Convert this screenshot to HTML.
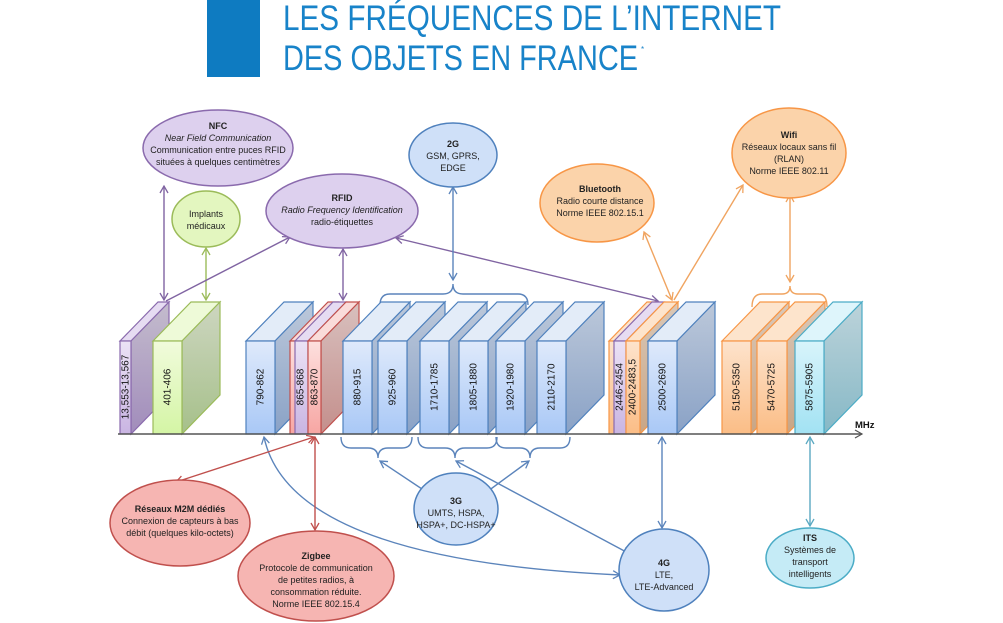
<!DOCTYPE html>
<html><head><meta charset="utf-8"><style>
html,body{margin:0;padding:0;background:#fff;}
svg{display:block;font-family:"Liberation Sans",sans-serif;}
.t{font-size:9px;fill:#222;text-anchor:middle;}
.b{font-weight:bold;}
.i{font-style:italic;}
.lb{font-size:10px;fill:#111;text-anchor:middle;dominant-baseline:middle;}
</style></head><body>
<svg width="1003" height="623" viewBox="0 0 1003 623" xmlns="http://www.w3.org/2000/svg">
<defs>
<linearGradient id="gB" x1="0" y1="0" x2="0" y2="1"><stop offset="0" stop-color="#dfeafb"/><stop offset="1" stop-color="#a9c8f6"/></linearGradient>
<linearGradient id="gBs" x1="0" y1="0" x2="0" y2="1"><stop offset="0" stop-color="#bcc8da"/><stop offset="1" stop-color="#8aa2c6"/></linearGradient>
<linearGradient id="gP" x1="0" y1="0" x2="0" y2="1"><stop offset="0" stop-color="#ebe2f5"/><stop offset="1" stop-color="#c9b5e2"/></linearGradient>
<linearGradient id="gPs" x1="0" y1="0" x2="0" y2="1"><stop offset="0" stop-color="#c4bccd"/><stop offset="1" stop-color="#a18cbb"/></linearGradient>
<linearGradient id="gG" x1="0" y1="0" x2="0" y2="1"><stop offset="0" stop-color="#f1fbdc"/><stop offset="1" stop-color="#d4f5a5"/></linearGradient>
<linearGradient id="gGs" x1="0" y1="0" x2="0" y2="1"><stop offset="0" stop-color="#cdd6c0"/><stop offset="1" stop-color="#a6c08a"/></linearGradient>
<linearGradient id="gR" x1="0" y1="0" x2="0" y2="1"><stop offset="0" stop-color="#fde0de"/><stop offset="1" stop-color="#f7a6a3"/></linearGradient>
<linearGradient id="gRs" x1="0" y1="0" x2="0" y2="1"><stop offset="0" stop-color="#d8c0be"/><stop offset="1" stop-color="#c48f8c"/></linearGradient>
<linearGradient id="gO" x1="0" y1="0" x2="0" y2="1"><stop offset="0" stop-color="#fde3cc"/><stop offset="1" stop-color="#fbbd86"/></linearGradient>
<linearGradient id="gOs" x1="0" y1="0" x2="0" y2="1"><stop offset="0" stop-color="#dac8b8"/><stop offset="1" stop-color="#c8a585"/></linearGradient>
<linearGradient id="gC" x1="0" y1="0" x2="0" y2="1"><stop offset="0" stop-color="#d8f4fb"/><stop offset="1" stop-color="#a2e2f3"/></linearGradient>
<linearGradient id="gCs" x1="0" y1="0" x2="0" y2="1"><stop offset="0" stop-color="#bcd3da"/><stop offset="1" stop-color="#86b8c6"/></linearGradient>
<marker id="aP" markerWidth="10" markerHeight="10" refX="8" refY="5" orient="auto-start-reverse" markerUnits="userSpaceOnUse"><path d="M1,1 L8,5 L1,9" fill="none" stroke="#8064a2" stroke-width="1.3"/></marker>
<marker id="aG" markerWidth="10" markerHeight="10" refX="8" refY="5" orient="auto-start-reverse" markerUnits="userSpaceOnUse"><path d="M1,1 L8,5 L1,9" fill="none" stroke="#9bbb59" stroke-width="1.3"/></marker>
<marker id="aB" markerWidth="10" markerHeight="10" refX="8" refY="5" orient="auto-start-reverse" markerUnits="userSpaceOnUse"><path d="M1,1 L8,5 L1,9" fill="none" stroke="#5b84bb" stroke-width="1.3"/></marker>
<marker id="aO" markerWidth="10" markerHeight="10" refX="8" refY="5" orient="auto-start-reverse" markerUnits="userSpaceOnUse"><path d="M1,1 L8,5 L1,9" fill="none" stroke="#f0a460" stroke-width="1.3"/></marker>
<marker id="aR" markerWidth="10" markerHeight="10" refX="8" refY="5" orient="auto-start-reverse" markerUnits="userSpaceOnUse"><path d="M1,1 L8,5 L1,9" fill="none" stroke="#c0504d" stroke-width="1.3"/></marker>
<marker id="aC" markerWidth="10" markerHeight="10" refX="8" refY="5" orient="auto-start-reverse" markerUnits="userSpaceOnUse"><path d="M1,1 L8,5 L1,9" fill="none" stroke="#5aa9c2" stroke-width="1.3"/></marker>
</defs>

<rect x="207" y="0" width="53" height="77" fill="#0e7bc1"/>
<text x="283" y="30" font-size="35" fill="#1883c9" textLength="498" lengthAdjust="spacingAndGlyphs">LES FRÉQUENCES DE L’INTERNET</text>
<text x="283" y="70" font-size="35" fill="#1883c9" textLength="355" lengthAdjust="spacingAndGlyphs">DES OBJETS EN FRANCE</text>
<text x="641" y="52" font-size="8" fill="#1883c9">*</text>

<g fill="none" stroke-width="1.4">
<line x1="164" y1="186" x2="164" y2="300" stroke="#8064a2" marker-start="url(#aP)" marker-end="url(#aP)"/>
<line x1="206" y1="248" x2="206" y2="300" stroke="#9bbb59" marker-start="url(#aG)" marker-end="url(#aG)"/>
<line x1="343" y1="249" x2="343" y2="300" stroke="#8064a2" marker-start="url(#aP)" marker-end="url(#aP)"/>
<line x1="290" y1="237" x2="166" y2="301" stroke="#8064a2" marker-start="url(#aP)"/>
<line x1="396" y1="238" x2="658" y2="301" stroke="#8064a2" marker-start="url(#aP)" marker-end="url(#aP)"/>
<line x1="453" y1="187" x2="453" y2="280" stroke="#5b84bb" marker-start="url(#aB)" marker-end="url(#aB)"/>
<path d="M380,305 Q380,294 390,294 L443,294 Q453,294 453,284 Q453,294 463,294 L518,294 Q528,294 528,305" stroke="#5b84bb"/>
<line x1="644" y1="232" x2="672" y2="300" stroke="#f0a460" marker-start="url(#aO)" marker-end="url(#aO)"/>
<line x1="743" y1="185" x2="674" y2="300" stroke="#f0a460" marker-start="url(#aO)"/>
<line x1="790" y1="195" x2="790" y2="282" stroke="#f0a460" marker-start="url(#aO)" marker-end="url(#aO)"/>
<path d="M752,307 Q752,294 762,294 L782,294 Q790,294 790,286 Q790,294 798,294 L818,294 Q827,294 827,307" stroke="#f0a460"/>
</g>

<g stroke-width="1.5">
<ellipse cx="218" cy="148" rx="75" ry="38" fill="#ddd0ee" stroke="#8a6aad"/>
<ellipse cx="206" cy="219" rx="34" ry="28" fill="#e3f6bf" stroke="#9bbb59"/>
<ellipse cx="342" cy="211" rx="76" ry="37" fill="#ddd0ee" stroke="#8a6aad"/>
<ellipse cx="453" cy="155" rx="44" ry="32" fill="#cfe0f8" stroke="#4f81bd"/>
<ellipse cx="597" cy="203" rx="57" ry="39" fill="#fbd3aa" stroke="#f79646"/>
<ellipse cx="789" cy="153" rx="57" ry="45" fill="#fbd3aa" stroke="#f79646"/>
</g>
<text class="t b" x="218" y="129">NFC</text>
<text class="t i" x="218" y="141">Near Field Communication</text>
<text class="t" x="218" y="153">Communication entre puces RFID</text>
<text class="t" x="218" y="165">situées à quelques centimètres</text>
<text class="t" x="206" y="217">Implants</text>
<text class="t" x="206" y="229">médicaux</text>
<text class="t b" x="342" y="201">RFID</text>
<text class="t i" x="342" y="213">Radio Frequency Identification</text>
<text class="t" x="342" y="225">radio-étiquettes</text>
<text class="t b" x="453" y="147">2G</text>
<text class="t" x="453" y="159">GSM, GPRS,</text>
<text class="t" x="453" y="171">EDGE</text>
<text class="t b" x="600" y="192">Bluetooth</text>
<text class="t" x="600" y="204">Radio courte distance</text>
<text class="t" x="600" y="216">Norme IEEE 802.15.1</text>
<text class="t b" x="789" y="138">Wifi</text>
<text class="t" x="789" y="150">Réseaux locaux sans fil</text>
<text class="t" x="789" y="162">(RLAN)</text>
<text class="t" x="789" y="174">Norme IEEE 802.11</text>

<g stroke-width="1.2">
<g stroke="#8a6aad"><polygon points="120,341 158,302 169,302 131,341" fill="#e6dcf2"/><polygon points="131,341 169,302 169,395 131,434" fill="url(#gPs)"/><rect x="120" y="341" width="11" height="93" fill="url(#gP)"/></g>
<g stroke="#9bbb59"><polygon points="153,341 191,302 220,302 182,341" fill="#eefad8"/><polygon points="182,341 220,302 220,395 182,434" fill="url(#gGs)"/><rect x="153" y="341" width="29" height="93" fill="url(#gG)"/></g>
<g stroke="#4f81bd"><polygon points="246,341 284,302 313,302 275,341" fill="#e3ecf8"/><polygon points="275,341 313,302 313,395 275,434" fill="url(#gBs)"/><rect x="246" y="341" width="29" height="93" fill="url(#gB)"/></g>
<g stroke="#c0504d"><polygon points="290,341 328,302 338,302 300,341" fill="#fadcda"/><rect x="290" y="341" width="10" height="93" fill="url(#gR)"/></g>
<g stroke="#8a6aad"><polygon points="295,341 333,302 346,302 308,341" fill="#e6dcf2"/><rect x="295" y="341" width="13" height="93" fill="url(#gP)"/></g>
<g stroke="#c0504d"><polygon points="308,341 346,302 359,302 321,341" fill="#fadcda"/><polygon points="321,341 359,302 359,395 321,434" fill="url(#gRs)"/><rect x="308" y="341" width="13" height="93" fill="url(#gR)"/></g>
<g stroke="#4f81bd">
<polygon points="343,341 381,302 410,302 372,341" fill="#e3ecf8"/><polygon points="372,341 410,302 410,395 372,434" fill="url(#gBs)"/><rect x="343" y="341" width="29" height="93" fill="url(#gB)"/>
<polygon points="378,341 416,302 445,302 407,341" fill="#e3ecf8"/><polygon points="407,341 445,302 445,395 407,434" fill="url(#gBs)"/><rect x="378" y="341" width="29" height="93" fill="url(#gB)"/>
<polygon points="420,341 458,302 487,302 449,341" fill="#e3ecf8"/><polygon points="449,341 487,302 487,395 449,434" fill="url(#gBs)"/><rect x="420" y="341" width="29" height="93" fill="url(#gB)"/>
<polygon points="459,341 497,302 526,302 488,341" fill="#e3ecf8"/><polygon points="488,341 526,302 526,395 488,434" fill="url(#gBs)"/><rect x="459" y="341" width="29" height="93" fill="url(#gB)"/>
<polygon points="496,341 534,302 563,302 525,341" fill="#e3ecf8"/><polygon points="525,341 563,302 563,395 525,434" fill="url(#gBs)"/><rect x="496" y="341" width="29" height="93" fill="url(#gB)"/>
<polygon points="537,341 575,302 604,302 566,341" fill="#e3ecf8"/><polygon points="566,341 604,302 604,395 566,434" fill="url(#gBs)"/><rect x="537" y="341" width="29" height="93" fill="url(#gB)"/>
</g>
<g stroke="#f79646"><polygon points="609,341 647,302 655,302 617,341" fill="#fde4cc"/><rect x="609" y="341" width="8" height="93" fill="url(#gO)"/></g>
<g stroke="#8a6aad"><polygon points="614,341 652,302 664,302 626,341" fill="#e6dcf2"/><rect x="614" y="341" width="12" height="93" fill="url(#gP)"/></g>
<g stroke="#f79646"><polygon points="626,341 664,302 678,302 640,341" fill="#fde4cc"/><polygon points="640,341 678,302 678,395 640,434" fill="url(#gOs)"/><rect x="626" y="341" width="14" height="93" fill="url(#gO)"/></g>
<g stroke="#4f81bd"><polygon points="648,341 686,302 715,302 677,341" fill="#e3ecf8"/><polygon points="677,341 715,302 715,395 677,434" fill="url(#gBs)"/><rect x="648" y="341" width="29" height="93" fill="url(#gB)"/></g>
<g stroke="#f79646">
<polygon points="722,341 760,302 789,302 751,341" fill="#fde4cc"/><polygon points="751,341 789,302 789,395 751,434" fill="url(#gOs)"/><rect x="722" y="341" width="29" height="93" fill="url(#gO)"/>
<polygon points="757,341 795,302 825,302 787,341" fill="#fde4cc"/><polygon points="787,341 825,302 825,395 787,434" fill="url(#gOs)"/><rect x="757" y="341" width="30" height="93" fill="url(#gO)"/>
</g>
<g stroke="#4bacc6"><polygon points="795,341 833,302 862,302 824,341" fill="#def5fb"/><polygon points="824,341 862,302 862,395 824,434" fill="url(#gCs)"/><rect x="795" y="341" width="29" height="93" fill="url(#gC)"/></g>
</g>
<g>
<text class="lb" transform="translate(126,387) rotate(-90)">13,553-13,567</text>
<text class="lb" transform="translate(168,387) rotate(-90)">401-406</text>
<text class="lb" transform="translate(261,387) rotate(-90)">790-862</text>
<text class="lb" transform="translate(301,387) rotate(-90)">865-868</text>
<text class="lb" transform="translate(315,387) rotate(-90)">863-870</text>
<text class="lb" transform="translate(358,387) rotate(-90)">880-915</text>
<text class="lb" transform="translate(393,387) rotate(-90)">925-960</text>
<text class="lb" transform="translate(435,387) rotate(-90)">1710-1785</text>
<text class="lb" transform="translate(474,387) rotate(-90)">1805-1880</text>
<text class="lb" transform="translate(511,387) rotate(-90)">1920-1980</text>
<text class="lb" transform="translate(552,387) rotate(-90)">2110-2170</text>
<text class="lb" transform="translate(620,387) rotate(-90)">2446-2454</text>
<text class="lb" transform="translate(633,387) rotate(-90)">2400-2483,5</text>
<text class="lb" transform="translate(663,387) rotate(-90)">2500-2690</text>
<text class="lb" transform="translate(737,387) rotate(-90)">5150-5350</text>
<text class="lb" transform="translate(772,387) rotate(-90)">5470-5725</text>
<text class="lb" transform="translate(810,387) rotate(-90)">5875-5905</text>
</g>

<line x1="118" y1="434" x2="862" y2="434" stroke="#555" stroke-width="1.5"/>
<path d="M855,430 L862,434 L855,438" fill="none" stroke="#555" stroke-width="1.2"/>
<text x="855" y="428" font-size="9.5" font-weight="bold" fill="#111">MHz</text>

<g fill="none" stroke-width="1.4">
<path d="M341,437 Q341,448 351,448 L368,448 Q378,448 378,458 Q378,448 388,448 L402,448 Q412,448 412,437" stroke="#5b84bb"/>
<path d="M418,437 Q418,448 428,448 L445,448 Q455,448 455,458 Q455,448 465,448 L487,448 Q497,448 497,437" stroke="#5b84bb"/>
<path d="M496,437 Q496,448 506,448 L520,448 Q530,448 530,458 Q530,448 540,448 L560,448 Q570,448 570,437" stroke="#5b84bb"/>
<line x1="380" y1="461" x2="428" y2="493" stroke="#5b84bb" marker-start="url(#aB)" marker-end="url(#aB)"/>
<line x1="529" y1="461" x2="484" y2="494" stroke="#5b84bb" marker-start="url(#aB)" marker-end="url(#aB)"/>
<line x1="456" y1="461" x2="630" y2="554" stroke="#5b84bb" marker-start="url(#aB)" marker-end="url(#aB)"/>
<path d="M264,437 Q290,560 620,575" stroke="#5b84bb" marker-start="url(#aB)" marker-end="url(#aB)"/>
<line x1="662" y1="437" x2="662" y2="528" stroke="#5b84bb" marker-start="url(#aB)" marker-end="url(#aB)"/>
<line x1="810" y1="437" x2="810" y2="526" stroke="#5aa9c2" marker-start="url(#aC)" marker-end="url(#aC)"/>
<line x1="314" y1="437" x2="176" y2="482" stroke="#c0504d" marker-start="url(#aR)" marker-end="url(#aR)"/>
<line x1="315" y1="437" x2="315" y2="530" stroke="#c0504d" marker-start="url(#aR)" marker-end="url(#aR)"/>
</g>

<g stroke-width="1.5">
<ellipse cx="180" cy="523" rx="70" ry="43" fill="#f6b5b2" stroke="#c0504d"/>
<ellipse cx="316" cy="576" rx="78" ry="45" fill="#f6b5b2" stroke="#c0504d"/>
<ellipse cx="456" cy="509" rx="42" ry="36" fill="#cfe0f8" stroke="#4f81bd"/>
<ellipse cx="664" cy="570" rx="45" ry="41" fill="#cfe0f8" stroke="#4f81bd"/>
<ellipse cx="810" cy="558" rx="44" ry="30" fill="#c5ebf6" stroke="#4bacc6"/>
</g>
<text class="t b" x="180" y="512">Réseaux M2M dédiés</text>
<text class="t" x="180" y="524">Connexion de capteurs  à bas</text>
<text class="t" x="180" y="536">débit (quelques kilo-octets)</text>
<text class="t b" x="316" y="559">Zigbee</text>
<text class="t" x="316" y="571">Protocole de communication</text>
<text class="t" x="316" y="583">de petites radios, à</text>
<text class="t" x="316" y="595">consommation réduite.</text>
<text class="t" x="316" y="607">Norme IEEE 802.15.4</text>
<text class="t b" x="456" y="504">3G</text>
<text class="t" x="456" y="516">UMTS, HSPA,</text>
<text class="t" x="456" y="528">HSPA+, DC-HSPA+</text>
<text class="t b" x="664" y="566">4G</text>
<text class="t" x="664" y="578">LTE,</text>
<text class="t" x="664" y="590">LTE-Advanced</text>
<text class="t b" x="810" y="541">ITS</text>
<text class="t" x="810" y="553">Systèmes de</text>
<text class="t" x="810" y="565">transport</text>
<text class="t" x="810" y="577">intelligents</text>
</svg>
</body></html>
